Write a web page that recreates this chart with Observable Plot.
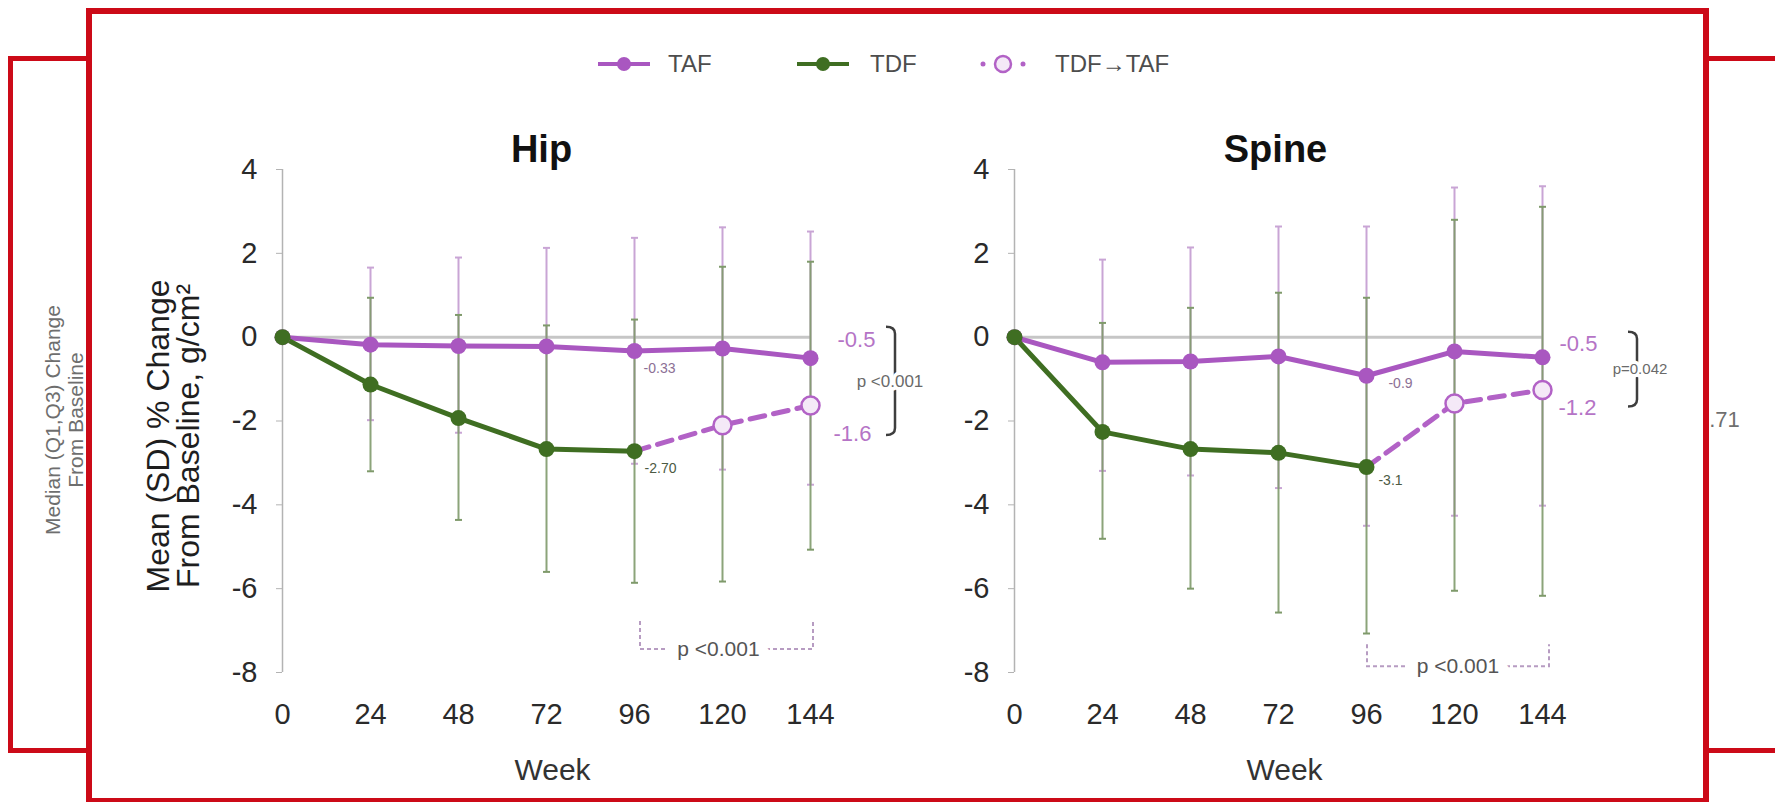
<!DOCTYPE html>
<html>
<head>
<meta charset="utf-8">
<script src="https://cdn.jsdelivr.net/npm/d3@7"></script>
<script src="https://cdn.jsdelivr.net/npm/@observablehq/plot@0.6"></script>
<style>
  html, body { margin: 0; padding: 0; background: #fff; }
  #stage { position: relative; width: 1775px; height: 802px; overflow: hidden; background: #fff;
           font-family: "Liberation Sans", Arial, Helvetica, sans-serif; }
  .abs { position: absolute; }
</style>
</head>
<body>
<div id="stage"></div>
<script>
// ---------------- data ----------------
const weeks = [0, 24, 48, 72, 96, 120, 144];
const tdfWeeks = [0, 24, 48, 72, 96];
const switchWeeks = [96, 120, 144];
const xTicks = [0, 24, 48, 72, 96, 120, 144];
const yTicks = [-8, -6, -4, -2, 0, 2, 4];
const seriesNames = ["TAF", "TDF", "TDF\u2192TAF"];

// Hip
const hipTAF      = [0, -0.18, -0.21, -0.22, -0.33, -0.27, -0.5];
const hipTAFLow   = [null, -1.98, -2.28, -2.58, -3.02, -3.16, -3.52];
const hipTAFHigh  = [null, 1.66, 1.9, 2.13, 2.37, 2.62, 2.52];
const hipTDF      = [0, -1.13, -1.93, -2.67, -2.72];
const hipTDFLow   = [null, -3.2, -4.36, -5.6, -5.86];
const hipTDFHigh  = [null, 0.94, 0.53, 0.28, 0.42];
const hipSwitch     = [-2.72, -2.1, -1.63];
const hipSwitchLow  = [null, -5.83, -5.07];
const hipSwitchHigh = [null, 1.68, 1.8];
const hipPointLabels = ["-0.33", "-2.70", "-0.5", "-1.6"];
const hipPValues = ["p <0.001", "p <0.001"];

// Spine
const spineTAF      = [0, -0.6, -0.58, -0.46, -0.92, -0.34, -0.48];
const spineTAFLow   = [null, -3.19, -3.3, -3.6, -4.5, -4.26, -4.02];
const spineTAFHigh  = [null, 1.85, 2.14, 2.64, 2.64, 3.57, 3.6];
const spineTDF      = [0, -2.26, -2.67, -2.76, -3.1];
const spineTDFLow   = [null, -4.81, -6.0, -6.57, -7.07];
const spineTDFHigh  = [null, 0.34, 0.7, 1.06, 0.94];
const spineSwitch     = [-3.1, -1.58, -1.26];
const spineSwitchLow  = [null, -6.05, -6.17];
const spineSwitchHigh = [null, 2.8, 3.11];
const spinePointLabels = ["-0.9", "-3.1", "-0.5", "-1.2"];
const spinePValues = ["p=0.042", "p <0.001"];

const titles = ["Hip", "Spine"];
const yTitle = "Mean (SD) % Change\nFrom Baseline, g/cm\u00b2";
const xTitle = "Week";
const backSlideTitle = ["Median (Q1,Q3) Change", "From Baseline"];
const backSlideValue = "0.71";

// ---------------- styles ----------------
const FONT = '"Liberation Sans", Arial, Helvetica, sans-serif';
const RED = "#cc0a18";
const PURPLE = "#a957c0";
const PURPLE2 = "#b262c6";
const PURPLE_TXT = "#b574c6";
const GREEN = "#3f6e22";
const PURPLE_BAR = "#c9a5d5";
const GREEN_BAR = "#7f9a6b";
const fmt = d => String(d);

const stage = d3.select("#stage");

// back slide
stage.append("div").attr("class", "abs")
  .style("left", "8px").style("top", "56px").style("width", "1850px").style("height", "697px")
  .style("box-sizing", "border-box").style("border", `5px solid ${RED}`).style("background", "#fff");
stage.append("div").attr("class", "abs")
  .style("left", "64px").style("top", "420px")
  .style("transform", "translate(-50%,-50%) rotate(-90deg)")
  .style("white-space", "nowrap").style("text-align", "center")
  .style("font-size", "21px").style("line-height", "23px").style("color", "#6e6e6e")
  .html(backSlideTitle.join("<br>"));
stage.append("div").attr("class", "abs")
  .style("left", "1697px").style("top", "407px").style("font-size", "22px").style("line-height", "26px")
  .style("color", "#6f6f6f").text(backSlideValue);

// front slide
stage.append("div").attr("class", "abs")
  .style("left", "86px").style("top", "8px").style("width", "1623px").style("height", "796px")
  .style("box-sizing", "border-box").style("border", `6px solid ${RED}`).style("background", "#fff");

// ---------------- helpers ----------------
const hbar = { draw(ctx, size) { const r = Math.sqrt(size / Math.PI); ctx.moveTo(-r, 0); ctx.lineTo(r, 0); } };

function rows(name, ws, mean, lo, hi) {
  return ws.map((w, i) => ({ series: name, week: w, mean: mean[i], lo: lo[i], hi: hi[i] }));
}
function caps(rs) {
  return rs.flatMap(d => [{ week: d.week, v: d.lo }, { week: d.week, v: d.hi }]);
}

function sideBracket(c) {
  return (index, scales) => {
    const x = scales.x(c.x) + c.dx;
    const y1 = scales.y(c.top) - c.extTop;
    const y2 = scales.y(c.bottom) + c.extBottom;
    const g = d3.create("svg:g");
    g.append("path")
      .attr("d", `M${x - 9},${y1}Q${x},${y1} ${x},${y1 + 7}L${x},${y2 - 7}Q${x},${y2} ${x - 9},${y2}`)
      .attr("fill", "none").attr("stroke", "#3e3e3e").attr("stroke-width", 2.5);
    g.append("text")
      .attr("x", x + c.tdx).attr("y", (y1 + y2) / 2).attr("dy", "0.35em")
      .attr("text-anchor", "middle").attr("font-size", c.fontSize).attr("fill", "#6a6a6a")
      .attr("stroke", "#fff").attr("stroke-width", 7).attr("stroke-linejoin", "round")
      .attr("paint-order", "stroke").text(c.text);
    return g.node();
  };
}

function bottomBracket(c) {
  return (index, scales) => {
    const xL = scales.x(c.x1) + c.dx1, xR = scales.x(c.x2) + c.dx2, y = scales.y(c.level);
    const g = d3.create("svg:g");
    g.append("path")
      .attr("d", `M${xL},${y - c.rise}V${y}H${xR}V${y - c.rise}`)
      .attr("fill", "none").attr("stroke", "#b79cc2").attr("stroke-width", 2)
      .attr("stroke-dasharray", "4,3");
    g.append("text")
      .attr("x", (xL + xR) / 2 + c.tdx).attr("y", y).attr("dy", "0.35em")
      .attr("text-anchor", "middle").attr("font-size", c.fontSize).attr("fill", "#555")
      .attr("stroke", "#fff").attr("stroke-width", 22).attr("stroke-linejoin", "round")
      .attr("paint-order", "stroke").text(c.text);
    return g.node();
  };
}

function makePanel(p) {
  const taf = rows(seriesNames[0], weeks, p.taf, p.tafLo, p.tafHi);
  const tdf = rows(seriesNames[1], tdfWeeks, p.tdf, p.tdfLo, p.tdfHi);
  const sw = rows(seriesNames[2], switchWeeks, p.sw, p.swLo, p.swHi);
  const purpleBars = taf.filter(d => d.lo != null);
  const greenBars = tdf.concat(sw).filter(d => d.lo != null);
  const last = a => a[a.length - 1];

  const small = [
    { week: tdfWeeks[4], value: p.taf[4], text: p.labels[0], dx: p.lab[0][0], dy: p.lab[0][1], fill: "#8c7095", size: 14 },
    { week: tdfWeeks[4], value: last(p.tdf), text: p.labels[1], dx: p.lab[1][0], dy: p.lab[1][1], fill: "#4c5a43", size: 14 },
    { week: last(weeks), value: last(p.taf), text: p.labels[2], dx: p.lab[2][0], dy: p.lab[2][1], fill: PURPLE_TXT, size: 22 },
    { week: last(weeks), value: last(p.sw), text: p.labels[3], dx: p.lab[3][0], dy: p.lab[3][1], fill: PURPLE_TXT, size: 22 }
  ];

  const marks = [
    Plot.ruleY([0], { x1: xTicks[0], x2: last(xTicks), stroke: "#c6c6c6", strokeWidth: 3 }),
    Plot.ruleX([0], { y1: yTicks[0], y2: last(yTicks), stroke: "#b3b3b3", strokeWidth: 1.5 }),
    Plot.axisY(yTicks, { tickSize: 6, tickPadding: 19, fontSize: 29, stroke: "#b3b3b3", tickFormat: fmt, label: null }),
    Plot.axisX(xTicks, { tickSize: 0, tickPadding: 31, fontSize: 29, tickFormat: fmt, label: null }),
    Plot.ruleX(purpleBars, { x: "week", y1: "lo", y2: "hi", stroke: PURPLE_BAR, strokeWidth: 2 }),
    Plot.dot(caps(purpleBars), { x: "week", y: "v", symbol: hbar, r: 3.5, fill: "none", stroke: PURPLE_BAR, strokeWidth: 2 }),
    Plot.ruleX(greenBars, { x: "week", y1: "lo", y2: "hi", stroke: GREEN_BAR, strokeWidth: 2, strokeOpacity: 0.9 }),
    Plot.dot(caps(greenBars), { x: "week", y: "v", symbol: hbar, r: 3.5, fill: "none", stroke: GREEN_BAR, strokeWidth: 2 }),
    Plot.line(taf, { x: "week", y: "mean", stroke: PURPLE, strokeWidth: 5 }),
    Plot.line(tdf, { x: "week", y: "mean", stroke: GREEN, strokeWidth: 5 }),
    Plot.line(sw, { x: "week", y: "mean", stroke: PURPLE2, strokeWidth: 5, strokeDasharray: "15,9" }),
    Plot.dot(taf, { x: "week", y: "mean", r: 8, fill: PURPLE }),
    Plot.dot(sw.slice(1), { x: "week", y: "mean", r: 9, fill: "#f4e9f7", stroke: PURPLE2, strokeWidth: 2.5 }),
    Plot.dot(tdf, { x: "week", y: "mean", r: 8, fill: GREEN }),
    ...small.map(s => Plot.text([s], { x: "week", y: "value", text: "text", dx: s.dx, dy: s.dy, fontSize: s.size, fill: s.fill })),
    Plot.text([p.title], { text: d => d, frameAnchor: "top", dy: -34, dx: p.titleDx, fontSize: 38, fontWeight: "bold", fill: "#111" }),
    Plot.text([xTitle], { text: d => d, frameAnchor: "bottom", dy: 107, dx: 6, fontSize: 30, fill: "#333" }),
    sideBracket({ x: last(weeks), top: last(p.taf), bottom: last(p.sw), text: p.pValues[0], ...p.side }),
    bottomBracket({ x1: switchWeeks[0], x2: last(switchWeeks), text: p.pValues[1], ...p.bottom })
  ];
  if (p.yTitle) {
    marks.push(Plot.text([p.yTitle], { text: d => d, frameAnchor: "left", textAnchor: "middle", rotate: -90,
      dx: -108, dy: 15, fontSize: 32, lineHeight: 0.95, fill: "#1e1e1e" }));
  }

  const chart = Plot.plot({
    width: p.width, height: p.height,
    marginLeft: p.ml, marginRight: p.mr, marginTop: p.mt, marginBottom: p.mb,
    x: { domain: [xTicks[0], last(xTicks)] },
    y: { domain: [yTicks[0], last(yTicks)] },
    style: { fontFamily: FONT, color: "#2a2a2a", background: "transparent", overflow: "visible" },
    marks
  });
  d3.select(chart).style("position", "absolute").style("left", p.left + "px").style("top", p.top + "px")
    .style("max-width", "none");
  stage.node().appendChild(chart);
}

// Hip panel: frame x 282..810, y 169..672
makePanel({
  title: titles[0], titleDx: -5, yTitle: yTitle,
  taf: hipTAF, tafLo: hipTAFLow, tafHi: hipTAFHigh,
  tdf: hipTDF, tdfLo: hipTDFLow, tdfHi: hipTDFHigh,
  sw: hipSwitch, swLo: hipSwitchLow, swHi: hipSwitchHigh,
  labels: hipPointLabels, pValues: hipPValues,
  lab: [[25, 18], [26, 17], [46, -18], [42, 28]],
  side: { dx: 85, extTop: 31, extBottom: 30, fontSize: 17, tdx: -5 },
  bottom: { dx1: 6, dx2: 3, level: -7.45, rise: 28, fontSize: 21, tdx: -8 },
  left: 95, top: 90, width: 850, height: 712, ml: 187, mr: 135, mt: 79, mb: 130
});

// Spine panel: frame x 1014..1542
makePanel({
  title: titles[1], titleDx: -3, yTitle: null,
  taf: spineTAF, tafLo: spineTAFLow, tafHi: spineTAFHigh,
  tdf: spineTDF, tdfLo: spineTDFLow, tdfHi: spineTDFHigh,
  sw: spineSwitch, swLo: spineSwitchLow, swHi: spineSwitchHigh,
  labels: spinePointLabels, pValues: spinePValues,
  lab: [[34, 8], [24, 13], [36, -13], [35, 18]],
  side: { dx: 95, extTop: 25, extBottom: 17, fontSize: 15, tdx: 3 },
  bottom: { dx1: 1, dx2: 7, level: -7.86, rise: 22, fontSize: 21, tdx: 0 },
  left: 840, top: 90, width: 920, height: 712, ml: 174, mr: 218, mt: 79, mb: 130
});

// ---------------- legend ----------------
const legendItems = [
  { name: seriesNames[0], x: 596, textX: 668, kind: "solid", color: PURPLE },
  { name: seriesNames[1], x: 795, textX: 870, kind: "solid", color: GREEN },
  { name: seriesNames[2], x: 975, textX: 1055, kind: "open", color: PURPLE2 }
];
legendItems.forEach(it => {
  const svg = stage.append("svg").attr("class", "abs")
    .style("left", it.x + "px").style("top", "50px").attr("width", 58).attr("height", 28);
  if (it.kind === "solid") {
    svg.append("line").attr("x1", 2).attr("x2", 54).attr("y1", 14).attr("y2", 14)
      .attr("stroke", it.color).attr("stroke-width", 4);
    svg.append("circle").attr("cx", 28).attr("cy", 14).attr("r", 7).attr("fill", it.color);
  } else {
    svg.append("circle").attr("cx", 8).attr("cy", 14).attr("r", 2.5).attr("fill", it.color);
    svg.append("circle").attr("cx", 48).attr("cy", 14).attr("r", 2.5).attr("fill", it.color);
    svg.append("circle").attr("cx", 28).attr("cy", 14).attr("r", 8).attr("fill", "#f4e9f7")
      .attr("stroke", it.color).attr("stroke-width", 2.5);
  }
  stage.append("div").attr("class", "abs")
    .style("left", it.textX + "px").style("top", "50px").style("font-size", "24px")
    .style("line-height", "28px").style("color", "#4d4d4d").style("white-space", "nowrap")
    .text(it.name);
});
</script>
</body>
</html>
